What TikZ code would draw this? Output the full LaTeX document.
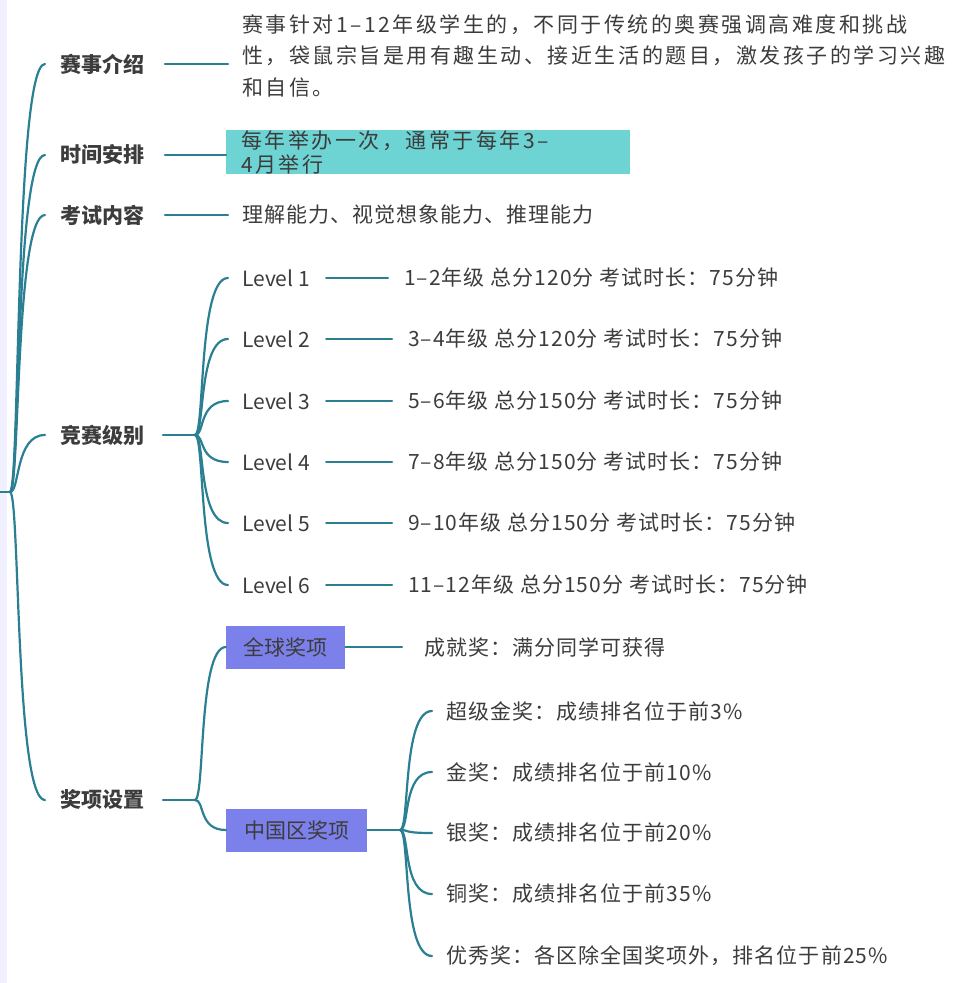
\documentclass[tikz,border=0pt]{standalone}
\usepackage{fontspec}
\setmainfont{Noto Sans CJK SC}
\newfontfamily\lsA[LetterSpace=12]{Noto Sans CJK SC}
\newfontfamily\lsB[LetterSpace=5]{Noto Sans CJK SC}
\begin{document}
\begin{tikzpicture}[x=1pt,y=-1pt,
  ln/.style={draw=lc,line width=2.2pt,line cap=round},
  lbl/.style={anchor=west,inner sep=0pt,font=\fontsize{21}{24}\selectfont\bfseries,text=tx},
  txt/.style={anchor=west,inner sep=0pt,font=\fontsize{21}{24}\selectfont,text=tx},
  boxc/.style={anchor=west,fill=#1,minimum height=43pt,inner xsep=15pt,inner ysep=0pt,font=\fontsize{21}{24}\selectfont,text=tx}]
\definecolor{lc}{HTML}{2A7F92}
\definecolor{tx}{HTML}{3C3C3C}
\definecolor{cy}{HTML}{6DD3D3}
\definecolor{pu}{HTML}{7B80EA}
\useasboundingbox (0,0) rectangle (979,983);
\fill[blue!6] (0,0) rectangle (7,983);
\coordinate (root) at (10,492);
\coordinate (r0) at (0,492);
\draw[ln] (r0) -- (root);
% main labels
\node[lbl] (a) at (60,64) {赛事介绍};
\node[lbl] (b) at (60,155) {时间安排};
\node[lbl] (c) at (60,215) {考试内容};
\node[lbl] (d) at (60,435) {竞赛级别};
\node[lbl] (e) at (60,800) {奖项设置};
\foreach \n/\y in {a/64,b/155,c/215,d/435,e/800}
  \draw[ln] (root) .. controls (20,492) and (15,\y) .. (45,\y);
% a
\node[txt,align=left,anchor=north west,font=\fontsize{21}{31.5}\selectfont\lsA] (at) at (242,14)
{赛事针对1–12年级学生的，不同于传统的奥赛强调高难度和挑战\\性，袋鼠宗旨是用有趣生动、接近生活的题目，激发孩子的学习兴趣\\和自信。};
\coordinate (a1) at (165,64);
\coordinate (a2) at (228,64);
\draw[ln] (a1) -- (a2);
% b
\node[boxc=cy,minimum width=404pt,align=left,text width=374pt,font=\fontsize{21}{24}\selectfont\lsA] (bt) at (226,152) {每年举办一次，通常于每年3–4月举行};
\coordinate (b1) at (165,155);
\coordinate (b2) at (226,155);
\draw[ln] (b1) -- (b2);
% c
\node[txt,font=\fontsize{21}{24}\selectfont\lsB] (ct) at (242,215) {理解能力、视觉想象能力、推理能力};
\coordinate (c1) at (165,215);
\coordinate (c2) at (228,215);
\draw[ln] (c1) -- (c2);
% d
\coordinate (dj) at (195,435);
\coordinate (d1) at (163,435);
\draw[ln] (d1) -- (dj);
\foreach \i/\y/\x/\t in {1/278/404/{1–2年级 总分120分 考试时长：75分钟},2/339/408/{3–4年级 总分120分 考试时长：75分钟},3/401/408/{5–6年级 总分150分 考试时长：75分钟},4/462/408/{7–8年级 总分150分 考试时长：75分钟},5/523/408/{9–10年级 总分150分 考试时长：75分钟},6/585/408/{11–12年级 总分150分 考试时长：75分钟}}{
  \node[txt] (L\i) at (242,\y) {Level \i};
  \node[txt,font=\fontsize{21}{24}\selectfont\lsB] (D\i) at (\x,\y) {\t};
  \draw[ln] (dj) .. controls (205,435) and (198,\y) .. (228,\y);
  \draw[ln] ([xshift=16pt]L\i.east) -- ([xshift=-16pt]D\i.west);
}
% e
\coordinate (ej) at (195,800);
\coordinate (e1) at (163,800);
\draw[ln] (e1) -- (ej);
\node[boxc=pu,minimum width=119pt] (g) at (226,647) {全球奖项};
\node[boxc=pu,minimum width=141pt] (cn) at (226,830) {中国区奖项};
\draw[ln] (ej) .. controls (205,800) and (198,647) .. (g.west);
\draw[ln] (ej) .. controls (205,800) and (198,830) .. (cn.west);
\node[txt,font=\fontsize{21}{24}\selectfont\lsB] (gt) at (424,647) {成就奖：满分同学可获得};
\coordinate (gj) at (402,647);
\draw[ln] (g.east) -- (gj);
\coordinate (cj) at (400,830);
\draw[ln] (cn.east) -- (cj);
\foreach \k/\y/\t in {1/711/{超级金奖：成绩排名位于前3\%},2/772/{金奖：成绩排名位于前10\%},3/833/{银奖：成绩排名位于前20\%},4/894/{铜奖：成绩排名位于前35\%},5/956/{优秀奖：各区除全国奖项外，排名位于前25\%}}{
  \node[txt,font=\fontsize{21}{24}\selectfont\lsB] (P\k) at (446,\y) {\t};
  \draw[ln] (cj) .. controls (410,830) and (402,\y) .. (432,\y);
}
\end{tikzpicture}
\end{document}
